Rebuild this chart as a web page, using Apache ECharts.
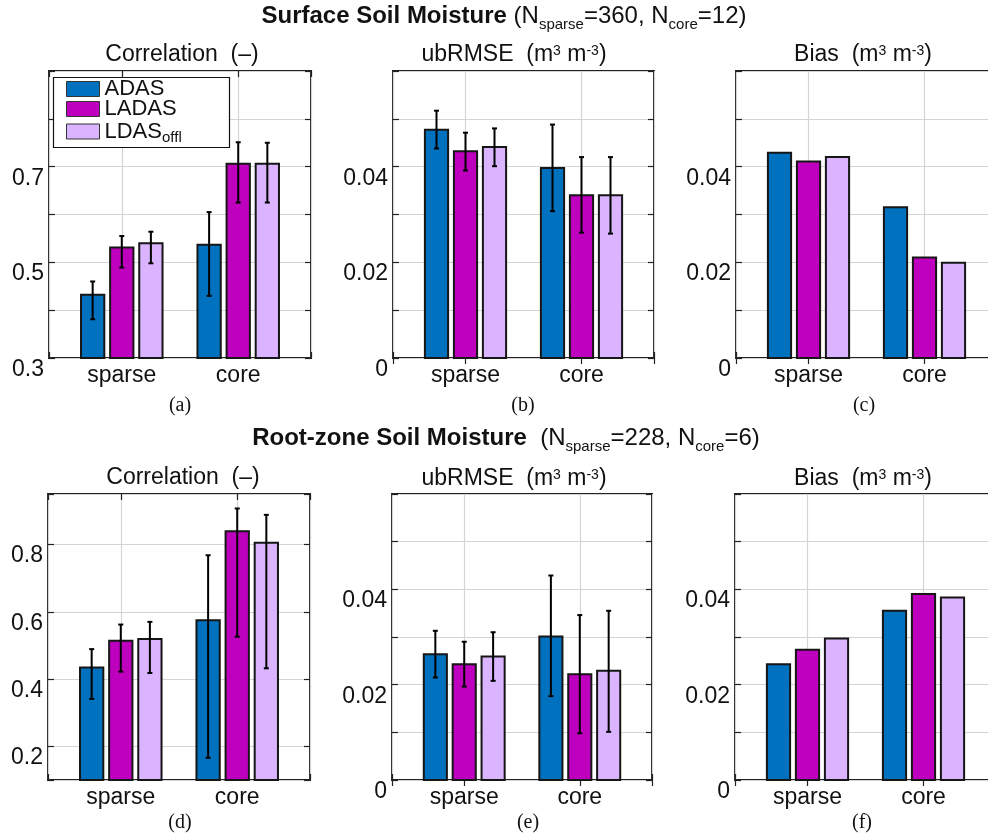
<!DOCTYPE html>
<html><head><meta charset="utf-8">
<script src="https://cdn.jsdelivr.net/npm/echarts@6/dist/echarts.min.js"></script>
<style>html,body{margin:0;padding:0;background:#fff}#c{width:988px;height:837px}</style>
</head><body><div id="c"></div>
<script>
// ---------------- DATA ----------------
const categories = ['sparse', 'core'];
const methods = ['ADAS', 'LADAS', 'LDAS_offl'];

// (a) Surface soil moisture - Correlation (rows: ADAS, LADAS, LDAS_offl; cols: sparse, core)
const surfR_val = [[0.432, 0.537], [0.531, 0.706], [0.540, 0.706]];
const surfR_lo  = [[0.381, 0.430], [0.489, 0.625], [0.498, 0.625]];
const surfR_hi  = [[0.460, 0.605], [0.555, 0.751], [0.564, 0.750]];
const surfR_ticks = ['0.3', '0.5', '0.7'];

// (b) Surface soil moisture - ubRMSE
const surfU_val = [[0.0477, 0.0397], [0.0432, 0.0340], [0.0441, 0.0340]];
const surfU_lo  = [[0.0438, 0.0307], [0.0392, 0.0262], [0.0401, 0.0260]];
const surfU_hi  = [[0.0517, 0.0488], [0.0471, 0.0420], [0.0480, 0.0420]];
const surfU_ticks = ['0', '0.02', '0.04'];

// (c) Surface soil moisture - Bias
const surfB_val = [[0.0429, 0.0315], [0.0411, 0.0210], [0.0420, 0.0199]];
const surfB_ticks = ['0', '0.02', '0.04'];

// (d) Root-zone soil moisture - Correlation
const rootR_val = [[0.434, 0.575], [0.514, 0.839], [0.519, 0.805]];
const rootR_lo  = [[0.341, 0.166], [0.422, 0.526], [0.418, 0.432]];
const rootR_hi  = [[0.489, 0.768], [0.562, 0.907], [0.570, 0.888]];
const rootR_ticks = ['0.2', '0.4', '0.6', '0.8'];

// (e) Root-zone soil moisture - ubRMSE
const rootU_val = [[0.0264, 0.0301], [0.0243, 0.0222], [0.0259, 0.0229]];
const rootU_lo  = [[0.0215, 0.0176], [0.0196, 0.0098], [0.0208, 0.0101]];
const rootU_hi  = [[0.0313, 0.0429], [0.0290, 0.0346], [0.0310, 0.0355]];
const rootU_ticks = ['0', '0.02', '0.04'];

// (f) Root-zone soil moisture - Bias
const rootB_val = [[0.0243, 0.0355], [0.0273, 0.0390], [0.0297, 0.0383]];
const rootB_ticks = ['0', '0.02', '0.04'];

// ---------------- STYLE / LAYOUT ----------------
const FONT = '"Liberation Sans", Arial, Helvetica, sans-serif';
const SERIF = '"Liberation Serif", "Times New Roman", serif';
const COLORS = ['#0071BE', '#BE00BE', '#DAB4FE'];
const OFFS = [-0.25, 0, 0.25];
const HALF = 0.1;
const XMIN = 0.375, XMAX = 2.625;

const panels = [
  {val: surfR_val, lo: surfR_lo, hi: surfR_hi, ticks: surfR_ticks, ymin: 0.3, ymax: 0.9, step: 0.1,
   left: 49, top: 71, width: 262, height: 287,
   title: '{n|Correlation  (–)}', tx: 182, ty: 55, letter: '(a)', lx: 180, ly: 406},
  {val: surfU_val, lo: surfU_lo, hi: surfU_hi, ticks: surfU_ticks, ymin: 0, ymax: 0.06, step: 0.01,
   left: 393, top: 71, width: 261, height: 287,
   title: '{n|ubRMSE  (m}{p|3}{n| m}{p|-3}{n|)}', tx: 514, ty: 55, letter: '(b)', lx: 523, ly: 406},
  {val: surfB_val, lo: null, hi: null, ticks: surfB_ticks, ymin: 0, ymax: 0.06, step: 0.01,
   left: 736, top: 71, width: 261, height: 287,
   title: '{n|Bias  (m}{p|3}{n| m}{p|-3}{n|)}', tx: 863, ty: 55, letter: '(c)', lx: 864, ly: 406},
  {val: rootR_val, lo: rootR_lo, hi: rootR_hi, ticks: rootR_ticks, ymin: 0.1, ymax: 0.95, step: 0.2,
   left: 48, top: 494, width: 262, height: 286,
   title: '{n|Correlation  (–)}', tx: 183, ty: 478, letter: '(d)', lx: 180, ly: 823},
  {val: rootU_val, lo: rootU_lo, hi: rootU_hi, ticks: rootU_ticks, ymin: 0, ymax: 0.06, step: 0.01,
   left: 392, top: 494, width: 260, height: 286,
   title: '{n|ubRMSE  (m}{p|3}{n| m}{p|-3}{n|)}', tx: 514, ty: 479, letter: '(e)', lx: 528, ly: 823},
  {val: rootB_val, lo: null, hi: null, ticks: rootB_ticks, ymin: 0, ymax: 0.06, step: 0.01,
   left: 735, top: 494, width: 261, height: 286,
   title: '{n|Bias  (m}{p|3}{n| m}{p|-3}{n|)}', tx: 863, ty: 479, letter: '(f)', lx: 862, ly: 823}
];

function fmtNum(v) { return String(Math.round(v * 10000) / 10000); }
function catLabel(v) {
  for (let i = 0; i < categories.length; i++) if (Math.abs(v - (i + 1)) < 1e-6) return categories[i];
  return '';
}

const grid = [], xAxis = [], yAxis = [], series = [];
const tickStyle = {show: true, inside: true, length: 6, lineStyle: {color: '#222', width: 1.2}};
panels.forEach((p, pi) => {
  grid.push({left: p.left, top: p.top, width: p.width, height: p.height, show: true,
             borderColor: '#222', borderWidth: 2, backgroundColor: '#fff',
             containLabel: false, outerBoundsMode: 'none'});
  const xBase = {gridIndex: pi, type: 'value', min: XMIN, max: XMAX, minInterval: 1, maxInterval: 1,
                 axisLine: {show: false}, axisTick: tickStyle};
  xAxis.push(Object.assign({}, xBase, {position: 'bottom',
    axisLabel: {formatter: catLabel, fontSize: 23, fontFamily: FONT, color: '#111', margin: 6},
    splitLine: {show: true, lineStyle: {color: '#d4d4d4', width: 1.2}}}));
  xAxis.push(Object.assign({}, xBase, {position: 'top', axisLabel: {show: false}, splitLine: {show: false}}));
  const yBase = {gridIndex: pi, type: 'value', min: p.ymin, max: p.ymax, minInterval: p.step, maxInterval: p.step,
                 axisLine: {show: false}, axisTick: tickStyle};
  yAxis.push(Object.assign({}, yBase, {position: 'left',
    axisLabel: {formatter: v => (p.ticks.indexOf(fmtNum(v)) >= 0 ? fmtNum(v) : ''),
                fontSize: 23, fontFamily: FONT, color: '#111', margin: 5, verticalAlign: 'top'},
    splitLine: {show: true, lineStyle: {color: '#d4d4d4', width: 1.2}}}));
  yAxis.push(Object.assign({}, yBase, {position: 'right', axisLabel: {show: false}, splitLine: {show: false}}));

  methods.forEach((m, mi) => {
    const hasErr = !!p.lo;
    const data = categories.map((c, ci) => hasErr
      ? [ci + 1, p.val[mi][ci], p.lo[mi][ci], p.hi[mi][ci]]
      : [ci + 1, p.val[mi][ci]]);
    series.push({
      type: 'custom', name: m, xAxisIndex: pi * 2, yAxisIndex: pi * 2,
      data: data, encode: {x: 0, y: 1}, itemStyle: {color: COLORS[mi]},
      silent: true, animation: false, z: 3,
      renderItem: function (params, api) {
        const xc = api.value(0) + OFFS[mi];
        const v = api.value(1);
        const tl = api.coord([xc - HALF, v]);
        const br = api.coord([xc + HALF, p.ymin]);
        const ch = [{type: 'rect',
          shape: {x: tl[0], y: tl[1], width: br[0] - tl[0], height: br[1] - tl[1]},
          style: {fill: COLORS[mi], stroke: '#161616', lineWidth: 2}}];
        if (hasErr) {
          const a = api.coord([xc, api.value(2)]);
          const b = api.coord([xc, api.value(3)]);
          const ls = {stroke: '#000', lineWidth: 2};
          ch.push({type: 'line', shape: {x1: a[0], y1: a[1], x2: b[0], y2: b[1]}, style: ls});
          ch.push({type: 'line', shape: {x1: a[0] - 2.5, y1: a[1], x2: a[0] + 2.5, y2: a[1]}, style: ls});
          ch.push({type: 'line', shape: {x1: b[0] - 2.5, y1: b[1], x2: b[0] + 2.5, y2: b[1]}, style: ls});
        }
        return {type: 'group', children: ch};
      }
    });
  });
});

const richMain = {
  b: {fontSize: 24, fontWeight: 'bold', fontFamily: FONT, fill: '#111'},
  n: {fontSize: 24, fontFamily: FONT, fill: '#111'},
  s: {fontSize: 15, fontFamily: FONT, fill: '#111', lineHeight: 10, padding: [18, 0, 0, 0]}
};
const richPanel = {
  n: {fontSize: 23, fontFamily: FONT, fill: '#111'},
  p: {fontSize: 14, fontFamily: FONT, fill: '#111', lineHeight: 10, padding: [0, 0, 8, 0]}
};

const graphics = [
  {type: 'text', x: 504, y: 16, style: {text: '{b|Surface Soil Moisture}{n| (N}{s|sparse}{n|=360, N}{s|core}{n|=12)}',
    rich: richMain, align: 'center', verticalAlign: 'middle'}},
  {type: 'text', x: 506, y: 438, style: {text: '{b|Root-zone Soil Moisture}{n|  (N}{s|sparse}{n|=228, N}{s|core}{n|=6)}',
    rich: richMain, align: 'center', verticalAlign: 'middle'}},
  // legend frame
  {type: 'rect', z: 50, shape: {x: 53.5, y: 77.5, width: 176, height: 70},
   style: {fill: '#fff', stroke: '#111', lineWidth: 1.2}}
];
panels.forEach(p => {
  graphics.push({type: 'text', x: p.tx, y: p.ty, style: {text: p.title, rich: richPanel, align: 'center', verticalAlign: 'middle'}});
  graphics.push({type: 'text', x: p.lx, y: p.ly, style: {text: p.letter, fontSize: 20, fontFamily: SERIF, fill: '#111',
    align: 'center', verticalAlign: 'middle'}});
});

const legendTops = [78, 98, 118];
const legends = methods.map((m, i) => ({
  left: 66, top: legendTops[i], orient: 'vertical', icon: 'rect', itemWidth: 33, itemHeight: 15,
  padding: 0, selectedMode: false, z: 60,
  data: [{name: m, itemStyle: {color: COLORS[i], borderColor: '#333', borderWidth: 1}}],
  formatter: name => name === 'LDAS_offl' ? '{m|LDAS}{s|offl}' : '{m|' + name + '}',
  textStyle: {fontFamily: FONT, color: '#111',
    rich: {m: {fontSize: 22, lineHeight: 16, fontFamily: FONT, color: '#111'},
           s: {fontSize: 15, lineHeight: 10, padding: [12, 0, 0, 0], fontFamily: FONT, color: '#111'}}}
}));

const chart = echarts.init(document.getElementById('c'), null, {renderer: 'canvas'});
chart.setOption({
  animation: false,
  backgroundColor: '#fff',
  grid: grid, xAxis: xAxis, yAxis: yAxis, series: series,
  graphic: graphics,
  legend: legends
});
</script></body></html>
